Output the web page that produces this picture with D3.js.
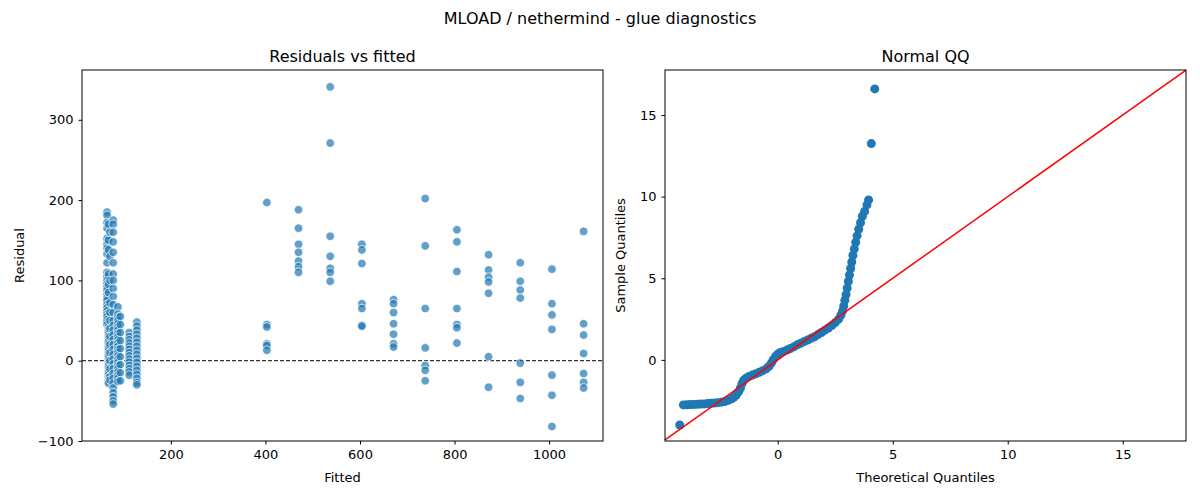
<!DOCTYPE html>
<html>
<head>
<meta charset="utf-8">
<script src="https://cdn.jsdelivr.net/npm/d3@7"></script>
<style>
  body { margin: 0; background: #fff; }
  text { font-family: "DejaVu Sans", sans-serif; fill: #000; }
</style>
</head>
<body>
<svg width="1200" height="500"></svg>
<script>
// residual groups: [fitted, residuals...]
const lowGroups = [
  [65, [185, 181, 172, 165, 152, 145, 140, 133, 122, 110, 105, 100, 96, 92, 88, 82, 78, 75, 70, 66, 62, 58, 55, 51, 48, 45]],
  [68, [170, 150, 138, 108, 95, 85, 42, 39, 36, 33, 30, 27, 24, 21, 18, 15, 12, 9, 6, 3, 0, -3, -6, -9, -12, -15, -18, -21, -25, -28]],
  [71, [160, 130, 100, 72, 60, 50, 40, 30, 20, 10, 0, -10, -20, -24]],
  [78, [175, 170, 160, 148, 135, 122, 108, 100, 90, 80, 70, 60, 50, 44, 38, 32, 26, 20, 14, 8, 2, -4, -10, -16, -22, -28, -34, -40, -45, -50, -54]],
  [88, [67, 58, 54, 50, 46, 42, 38, 34, 30, 26, 22, 18, 14, 10, 6, 2, -2, -6, -10, -14, -18, -22, -26]],
  [93, [55, 45, 35, 25, 15, 5, -5, -15, -25]],
  [112, [35, 30, 26, 22, 18, 14, 10, 6, 2, -2, -6, -10, -14, -18]],
  [128, [48, 43, 38, 33, 28, 23, 18, 13, 8, 3, -2, -7, -12, -17, -22, -27, -30]]
]
const highGroups = [
  [403, [197, 45, 42, 21, 19, 13]],
  [470, [188, 165, 145, 135, 124, 117, 110]],
  [537, [341, 271, 155, 130, 115, 110, 99]],
  [604, [145, 138, 121, 71, 65, 44, 43]],
  [671, [76, 71, 60, 46, 33, 21, 17]],
  [738, [202, 143, 65, 16, -6, -12, -25]],
  [805, [163, 148, 111, 65, 45, 41, 22]],
  [872, [132, 113, 104, 98, 84, 5, -33]],
  [939, [122, 99, 88, 78, -3, -27, -47]],
  [1006, [114, 71, 57, 39, -18, -43, -82]],
  [1073, [161, 46, 32, 9, -16, -27, -34]]
]
// normal QQ: theoretical, sample
const qqTheo = [-4.26, -4.1, -3.95, -3.8, -3.65, -3.5, -3.35, -3.2, -3.05, -2.9, -2.75, -2.6, -2.45, -2.3, -2.15, -2.0, -1.9, -1.8, -1.7, -1.62, -1.55, -1.48, -1.38, -1.25, -1.1, -0.95, -0.8, -0.65, -0.5, -0.38, -0.28, -0.2, -0.1, 0.0, 0.12, 0.25, 0.4, 0.55, 0.7, 0.85, 1.0, 1.15, 1.3, 1.45, 1.6, 1.75, 1.9, 2.05, 2.2, 2.35, 2.5, 2.65, 2.75, 2.82, 2.87, 2.92, 2.97, 3.02, 3.07, 3.12, 3.17, 3.22, 3.27, 3.33, 3.39, 3.45, 3.52, 3.6, 3.68, 3.78, 3.88, 3.95, 4.07, 4.22]
const qqSample = [-3.99, -2.76, -2.75, -2.74, -2.73, -2.72, -2.71, -2.7, -2.68, -2.66, -2.64, -2.62, -2.59, -2.55, -2.48, -2.38, -2.28, -2.15, -1.95, -1.72, -1.45, -1.25, -1.12, -1.02, -0.93, -0.85, -0.76, -0.66, -0.55, -0.4, -0.2, 0.0, 0.2, 0.35, 0.45, 0.52, 0.6, 0.7, 0.8, 0.92, 1.02, 1.12, 1.22, 1.32, 1.42, 1.55, 1.68, 1.82, 1.95, 2.1, 2.28, 2.5, 2.75, 3.0, 3.3, 3.65, 4.0, 4.4, 4.8, 5.2, 5.6, 6.0, 6.4, 6.8, 7.2, 7.6, 8.0, 8.4, 8.8, 9.1, 9.5, 9.8, 13.25, 16.6]
const residTicks = [-100, 0, 100, 200, 300]
const fittedTicks = [200, 400, 600, 800, 1000]
const qqTicks = [0, 5, 10, 15]

const svg = d3.select('svg')
const blue = '#1f77b4'
const yTop = 70, yBottom = 441

svg.append('text').attr('x', 600).attr('y', 24).attr('text-anchor', 'middle')
  .style('font-size', '16px').text('MLOAD / nethermind - glue diagnostics')

function frame(x0, x1, title, xlab, ylab, sx, sy, xt, yt, ylabOff) {
  const g = svg.append('g')
  g.append('g').attr('transform', `translate(0,${yBottom})`)
    .call(d3.axisBottom(sx).tickValues(xt).tickFormat(d3.format('d')).tickSizeOuter(0).tickSize(3.5).tickPadding(5))
  g.append('g').attr('transform', `translate(${x0},0)`)
    .call(d3.axisLeft(sy).tickValues(yt).tickFormat(d3.format('d')).tickSizeOuter(0).tickSize(3.5).tickPadding(5))
  g.selectAll('.domain').remove()
  g.selectAll('.tick text').style('font-size', '13px').style('font-family', 'DejaVu Sans')
  g.selectAll('.tick line').attr('stroke', '#000')
  g.append('rect').attr('x', x0).attr('y', yTop).attr('width', x1 - x0).attr('height', yBottom - yTop)
    .attr('fill', 'none').attr('stroke', '#000').attr('stroke-width', 1)
  g.append('text').attr('x', (x0 + x1) / 2).attr('y', 62).attr('text-anchor', 'middle')
    .style('font-size', '16px').text(title)
  g.append('text').attr('x', (x0 + x1) / 2).attr('y', 482).attr('text-anchor', 'middle')
    .style('font-size', '13px').text(xlab)
  g.append('text').attr('transform', `translate(${x0 - ylabOff},${(yTop + yBottom) / 2}) rotate(-90)`)
    .attr('text-anchor', 'middle').style('font-size', '13px').text(ylab)
}

// left: residuals vs fitted
const lx = d3.scaleLinear().domain([12, 1114]).range([82, 603])
const ly = d3.scaleLinear().domain([-100, 362]).range([441, 70])
const pts = []
lowGroups.concat(highGroups).forEach(([f, rs]) => rs.forEach(r => pts.push([f, r])))
svg.append('line').attr('x1', 82).attr('x2', 603).attr('y1', ly(0)).attr('y2', ly(0))
  .attr('stroke', '#000').attr('stroke-dasharray', '4,2').attr('stroke-width', 1)
svg.append('g').selectAll('circle').data(pts).join('circle')
  .attr('cx', d => lx(d[0])).attr('cy', d => ly(d[1])).attr('r', 4.3)
  .attr('fill', blue).attr('fill-opacity', 0.7).attr('stroke', '#fff').attr('stroke-width', 0.75)
frame(82, 603, 'Residuals vs fitted', 'Fitted', 'Residual', lx, ly, fittedTicks, residTicks, 58)

// right: normal QQ
const rx = d3.scaleLinear().domain([-4.9, 17.75]).range([665, 1186])
const ry = d3.scaleLinear().domain([-4.97, 17.76]).range([441, 70])
svg.append('g').selectAll('circle').data(qqTheo.map((t, i) => [t, qqSample[i]])).join('circle')
  .attr('cx', d => rx(d[0])).attr('cy', d => ry(d[1])).attr('r', 4.5).attr('fill', blue)
svg.append('line').attr('x1', rx(-4.9)).attr('y1', ry(-4.9)).attr('x2', rx(17.75)).attr('y2', ry(17.75))
  .attr('stroke', 'red').attr('stroke-width', 1.5)
frame(665, 1186, 'Normal QQ', 'Theoretical Quantiles', 'Sample Quantiles', rx, ry, qqTicks, qqTicks, 40)
</script>
</body>
</html>
